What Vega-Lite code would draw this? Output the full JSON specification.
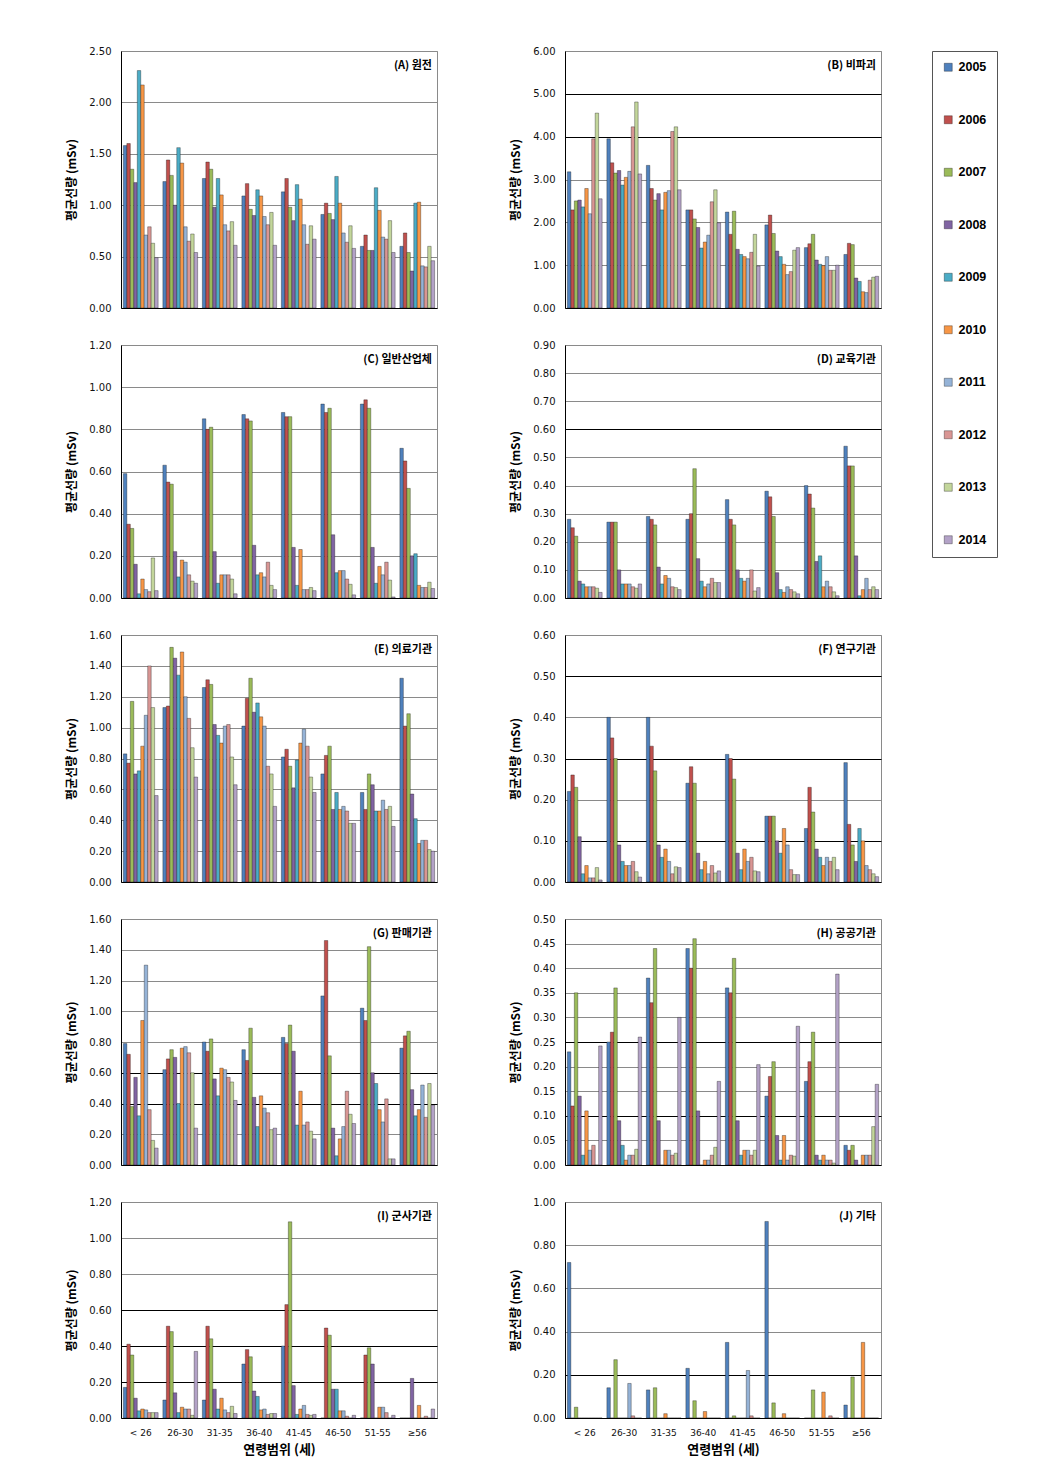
{
"$schema":"https://vega.github.io/schema/vega-lite/v6.json",
"padding":{"left":65,"top":45,"right":0,"bottom":0},
"background":"white",
"config":{
 "view":{"stroke":"#8a8a8a","strokeWidth":1},
 "axis":{"labelFont":"DejaVu Sans","labelFontSize":10,"labelColor":"#111","titleFont":"Noto Sans CJK KR","titleFontWeight":"bold","titleFontSize":12,"titleColor":"#000","domainColor":"#000","ticks":false,"labelPadding":10,"titlePadding":10,"gridColor":"#8a8a8a"},
 "axisX":{"grid":false,"labels":false,"title":null,"labelPadding":10,"labelFontSize":9,"labelAngle":0,"titlePadding":6,"titleFontSize":13},
 "bar":{"stroke":"#000","strokeWidth":0.4,"strokeOpacity":0.8},
 "title":{"font":"Noto Sans CJK KR","fontSize":11,"fontWeight":"bold","anchor":"end","frame":"group","orient":"top","baseline":"bottom","offset":-25,"dx":-5,"color":"#000"},
 "legend":{"orient":"right","offset":50,"strokeColor":"#555","padding":10,"rowPadding":39.5,"symbolType":"square","symbolSize":64,"symbolStrokeColor":"#000","symbolStrokeWidth":0.6,"labelFont":"Liberation Sans","labelFontWeight":"bold","labelFontSize":12.5,"labelColor":"#000","symbolOpacity":1,"labelOffset":4}
},
"datasets":{
"A":[
{"a":"< 26","y":2005,"v":1.58},{"a":"< 26","y":2006,"v":1.60},{"a":"< 26","y":2007,"v":1.35},{"a":"< 26","y":2008,"v":1.22},{"a":"< 26","y":2009,"v":2.31},{"a":"< 26","y":2010,"v":2.17},{"a":"< 26","y":2011,"v":0.71},{"a":"< 26","y":2012,"v":0.79},{"a":"< 26","y":2013,"v":0.63},{"a":"< 26","y":2014,"v":0.49},
{"a":"26-30","y":2005,"v":1.23},{"a":"26-30","y":2006,"v":1.44},{"a":"26-30","y":2007,"v":1.29},{"a":"26-30","y":2008,"v":1.00},{"a":"26-30","y":2009,"v":1.56},{"a":"26-30","y":2010,"v":1.41},{"a":"26-30","y":2011,"v":0.79},{"a":"26-30","y":2012,"v":0.65},{"a":"26-30","y":2013,"v":0.72},{"a":"26-30","y":2014,"v":0.54},
{"a":"31-35","y":2005,"v":1.26},{"a":"31-35","y":2006,"v":1.42},{"a":"31-35","y":2007,"v":1.35},{"a":"31-35","y":2008,"v":0.98},{"a":"31-35","y":2009,"v":1.26},{"a":"31-35","y":2010,"v":1.10},{"a":"31-35","y":2011,"v":0.81},{"a":"31-35","y":2012,"v":0.75},{"a":"31-35","y":2013,"v":0.84},{"a":"31-35","y":2014,"v":0.61},
{"a":"36-40","y":2005,"v":1.09},{"a":"36-40","y":2006,"v":1.21},{"a":"36-40","y":2007,"v":0.96},{"a":"36-40","y":2008,"v":0.90},{"a":"36-40","y":2009,"v":1.15},{"a":"36-40","y":2010,"v":1.09},{"a":"36-40","y":2011,"v":0.89},{"a":"36-40","y":2012,"v":0.81},{"a":"36-40","y":2013,"v":0.93},{"a":"36-40","y":2014,"v":0.61},
{"a":"41-45","y":2005,"v":1.13},{"a":"41-45","y":2006,"v":1.26},{"a":"41-45","y":2007,"v":0.98},{"a":"41-45","y":2008,"v":0.85},{"a":"41-45","y":2009,"v":1.20},{"a":"41-45","y":2010,"v":1.06},{"a":"41-45","y":2011,"v":0.81},{"a":"41-45","y":2012,"v":0.62},{"a":"41-45","y":2013,"v":0.80},{"a":"41-45","y":2014,"v":0.67},
{"a":"46-50","y":2005,"v":0.91},{"a":"46-50","y":2006,"v":1.02},{"a":"46-50","y":2007,"v":0.92},{"a":"46-50","y":2008,"v":0.86},{"a":"46-50","y":2009,"v":1.28},{"a":"46-50","y":2010,"v":1.02},{"a":"46-50","y":2011,"v":0.73},{"a":"46-50","y":2012,"v":0.64},{"a":"46-50","y":2013,"v":0.80},{"a":"46-50","y":2014,"v":0.58},
{"a":"51-55","y":2005,"v":0.60},{"a":"51-55","y":2006,"v":0.71},{"a":"51-55","y":2007,"v":0.56},{"a":"51-55","y":2008,"v":0.56},{"a":"51-55","y":2009,"v":1.17},{"a":"51-55","y":2010,"v":0.95},{"a":"51-55","y":2011,"v":0.69},{"a":"51-55","y":2012,"v":0.67},{"a":"51-55","y":2013,"v":0.85},{"a":"51-55","y":2014,"v":0.54},
{"a":"≥56","y":2005,"v":0.60},{"a":"≥56","y":2006,"v":0.73},{"a":"≥56","y":2007,"v":0.54},{"a":"≥56","y":2008,"v":0.36},{"a":"≥56","y":2009,"v":1.02},{"a":"≥56","y":2010,"v":1.03},{"a":"≥56","y":2011,"v":0.41},{"a":"≥56","y":2012,"v":0.40},{"a":"≥56","y":2013,"v":0.60},{"a":"≥56","y":2014,"v":0.46}
],
"B":[
{"a":"< 26","y":2005,"v":3.18},{"a":"< 26","y":2006,"v":2.29},{"a":"< 26","y":2007,"v":2.50},{"a":"< 26","y":2008,"v":2.52},{"a":"< 26","y":2009,"v":2.36},{"a":"< 26","y":2010,"v":2.79},{"a":"< 26","y":2011,"v":2.20},{"a":"< 26","y":2012,"v":3.95},{"a":"< 26","y":2013,"v":4.55},{"a":"< 26","y":2014,"v":2.55},
{"a":"26-30","y":2005,"v":3.95},{"a":"26-30","y":2006,"v":3.39},{"a":"26-30","y":2007,"v":3.15},{"a":"26-30","y":2008,"v":3.21},{"a":"26-30","y":2009,"v":2.87},{"a":"26-30","y":2010,"v":3.05},{"a":"26-30","y":2011,"v":3.19},{"a":"26-30","y":2012,"v":4.23},{"a":"26-30","y":2013,"v":4.81},{"a":"26-30","y":2014,"v":3.13},
{"a":"31-35","y":2005,"v":3.33},{"a":"31-35","y":2006,"v":2.79},{"a":"31-35","y":2007,"v":2.52},{"a":"31-35","y":2008,"v":2.67},{"a":"31-35","y":2009,"v":2.29},{"a":"31-35","y":2010,"v":2.70},{"a":"31-35","y":2011,"v":2.74},{"a":"31-35","y":2012,"v":4.12},{"a":"31-35","y":2013,"v":4.23},{"a":"31-35","y":2014,"v":2.76},
{"a":"36-40","y":2005,"v":2.29},{"a":"36-40","y":2006,"v":2.29},{"a":"36-40","y":2007,"v":2.08},{"a":"36-40","y":2008,"v":1.88},{"a":"36-40","y":2009,"v":1.40},{"a":"36-40","y":2010,"v":1.54},{"a":"36-40","y":2011,"v":1.70},{"a":"36-40","y":2012,"v":2.48},{"a":"36-40","y":2013,"v":2.76},{"a":"36-40","y":2014,"v":1.99},
{"a":"41-45","y":2005,"v":2.24},{"a":"41-45","y":2006,"v":1.72},{"a":"41-45","y":2007,"v":2.26},{"a":"41-45","y":2008,"v":1.37},{"a":"41-45","y":2009,"v":1.25},{"a":"41-45","y":2010,"v":1.20},{"a":"41-45","y":2011,"v":1.15},{"a":"41-45","y":2012,"v":1.30},{"a":"41-45","y":2013,"v":1.72},{"a":"41-45","y":2014,"v":0.98},
{"a":"46-50","y":2005,"v":1.94},{"a":"46-50","y":2006,"v":2.17},{"a":"46-50","y":2007,"v":1.74},{"a":"46-50","y":2008,"v":1.33},{"a":"46-50","y":2009,"v":1.20},{"a":"46-50","y":2010,"v":1.02},{"a":"46-50","y":2011,"v":0.78},{"a":"46-50","y":2012,"v":0.85},{"a":"46-50","y":2013,"v":1.35},{"a":"46-50","y":2014,"v":1.41},
{"a":"51-55","y":2005,"v":1.41},{"a":"51-55","y":2006,"v":1.50},{"a":"51-55","y":2007,"v":1.72},{"a":"51-55","y":2008,"v":1.12},{"a":"51-55","y":2009,"v":1.02},{"a":"51-55","y":2010,"v":0.99},{"a":"51-55","y":2011,"v":1.20},{"a":"51-55","y":2012,"v":0.88},{"a":"51-55","y":2013,"v":0.88},{"a":"51-55","y":2014,"v":1.00},
{"a":"≥56","y":2005,"v":1.25},{"a":"≥56","y":2006,"v":1.51},{"a":"≥56","y":2007,"v":1.48},{"a":"≥56","y":2008,"v":0.70},{"a":"≥56","y":2009,"v":0.62},{"a":"≥56","y":2010,"v":0.38},{"a":"≥56","y":2011,"v":0.36},{"a":"≥56","y":2012,"v":0.65},{"a":"≥56","y":2013,"v":0.72},{"a":"≥56","y":2014,"v":0.74}
],
"C":[
{"a":"< 26","y":2005,"v":0.59},{"a":"< 26","y":2006,"v":0.35},{"a":"< 26","y":2007,"v":0.33},{"a":"< 26","y":2008,"v":0.16},{"a":"< 26","y":2009,"v":0.02},{"a":"< 26","y":2010,"v":0.09},{"a":"< 26","y":2011,"v":0.04},{"a":"< 26","y":2012,"v":0.03},{"a":"< 26","y":2013,"v":0.19},{"a":"< 26","y":2014,"v":0.035},
{"a":"26-30","y":2005,"v":0.63},{"a":"26-30","y":2006,"v":0.55},{"a":"26-30","y":2007,"v":0.54},{"a":"26-30","y":2008,"v":0.22},{"a":"26-30","y":2009,"v":0.10},{"a":"26-30","y":2010,"v":0.18},{"a":"26-30","y":2011,"v":0.17},{"a":"26-30","y":2012,"v":0.11},{"a":"26-30","y":2013,"v":0.08},{"a":"26-30","y":2014,"v":0.07},
{"a":"31-35","y":2005,"v":0.85},{"a":"31-35","y":2006,"v":0.80},{"a":"31-35","y":2007,"v":0.81},{"a":"31-35","y":2008,"v":0.22},{"a":"31-35","y":2009,"v":0.07},{"a":"31-35","y":2010,"v":0.11},{"a":"31-35","y":2011,"v":0.11},{"a":"31-35","y":2012,"v":0.11},{"a":"31-35","y":2013,"v":0.09},{"a":"31-35","y":2014,"v":0.02},
{"a":"36-40","y":2005,"v":0.87},{"a":"36-40","y":2006,"v":0.85},{"a":"36-40","y":2007,"v":0.84},{"a":"36-40","y":2008,"v":0.25},{"a":"36-40","y":2009,"v":0.11},{"a":"36-40","y":2010,"v":0.12},{"a":"36-40","y":2011,"v":0.10},{"a":"36-40","y":2012,"v":0.17},{"a":"36-40","y":2013,"v":0.06},{"a":"36-40","y":2014,"v":0.04},
{"a":"41-45","y":2005,"v":0.88},{"a":"41-45","y":2006,"v":0.86},{"a":"41-45","y":2007,"v":0.86},{"a":"41-45","y":2008,"v":0.24},{"a":"41-45","y":2009,"v":0.06},{"a":"41-45","y":2010,"v":0.23},{"a":"41-45","y":2011,"v":0.04},{"a":"41-45","y":2012,"v":0.04},{"a":"41-45","y":2013,"v":0.05},{"a":"41-45","y":2014,"v":0.035},
{"a":"46-50","y":2005,"v":0.92},{"a":"46-50","y":2006,"v":0.88},{"a":"46-50","y":2007,"v":0.90},{"a":"46-50","y":2008,"v":0.30},{"a":"46-50","y":2009,"v":0.12},{"a":"46-50","y":2010,"v":0.13},{"a":"46-50","y":2011,"v":0.13},{"a":"46-50","y":2012,"v":0.09},{"a":"46-50","y":2013,"v":0.065},{"a":"46-50","y":2014,"v":0.015},
{"a":"51-55","y":2005,"v":0.92},{"a":"51-55","y":2006,"v":0.94},{"a":"51-55","y":2007,"v":0.90},{"a":"51-55","y":2008,"v":0.24},{"a":"51-55","y":2009,"v":0.07},{"a":"51-55","y":2010,"v":0.15},{"a":"51-55","y":2011,"v":0.11},{"a":"51-55","y":2012,"v":0.17},{"a":"51-55","y":2013,"v":0.085},{"a":"51-55","y":2014,"v":0.005},
{"a":"≥56","y":2005,"v":0.71},{"a":"≥56","y":2006,"v":0.65},{"a":"≥56","y":2007,"v":0.52},{"a":"≥56","y":2008,"v":0.20},{"a":"≥56","y":2009,"v":0.21},{"a":"≥56","y":2010,"v":0.06},{"a":"≥56","y":2011,"v":0.05},{"a":"≥56","y":2012,"v":0.05},{"a":"≥56","y":2013,"v":0.075},{"a":"≥56","y":2014,"v":0.045}
],
"D":[
{"a":"< 26","y":2005,"v":0.28},{"a":"< 26","y":2006,"v":0.25},{"a":"< 26","y":2007,"v":0.22},{"a":"< 26","y":2008,"v":0.06},{"a":"< 26","y":2009,"v":0.05},{"a":"< 26","y":2010,"v":0.04},{"a":"< 26","y":2011,"v":0.04},{"a":"< 26","y":2012,"v":0.04},{"a":"< 26","y":2013,"v":0.035},{"a":"< 26","y":2014,"v":0.02},
{"a":"26-30","y":2005,"v":0.27},{"a":"26-30","y":2006,"v":0.27},{"a":"26-30","y":2007,"v":0.27},{"a":"26-30","y":2008,"v":0.10},{"a":"26-30","y":2009,"v":0.05},{"a":"26-30","y":2010,"v":0.05},{"a":"26-30","y":2011,"v":0.05},{"a":"26-30","y":2012,"v":0.04},{"a":"26-30","y":2013,"v":0.035},{"a":"26-30","y":2014,"v":0.05},
{"a":"31-35","y":2005,"v":0.29},{"a":"31-35","y":2006,"v":0.28},{"a":"31-35","y":2007,"v":0.26},{"a":"31-35","y":2008,"v":0.11},{"a":"31-35","y":2009,"v":0.05},{"a":"31-35","y":2010,"v":0.08},{"a":"31-35","y":2011,"v":0.07},{"a":"31-35","y":2012,"v":0.04},{"a":"31-35","y":2013,"v":0.037},{"a":"31-35","y":2014,"v":0.03},
{"a":"36-40","y":2005,"v":0.28},{"a":"36-40","y":2006,"v":0.30},{"a":"36-40","y":2007,"v":0.46},{"a":"36-40","y":2008,"v":0.14},{"a":"36-40","y":2009,"v":0.06},{"a":"36-40","y":2010,"v":0.04},{"a":"36-40","y":2011,"v":0.05},{"a":"36-40","y":2012,"v":0.07},{"a":"36-40","y":2013,"v":0.055},{"a":"36-40","y":2014,"v":0.055},
{"a":"41-45","y":2005,"v":0.35},{"a":"41-45","y":2006,"v":0.28},{"a":"41-45","y":2007,"v":0.26},{"a":"41-45","y":2008,"v":0.10},{"a":"41-45","y":2009,"v":0.07},{"a":"41-45","y":2010,"v":0.06},{"a":"41-45","y":2011,"v":0.07},{"a":"41-45","y":2012,"v":0.10},{"a":"41-45","y":2013,"v":0.025},{"a":"41-45","y":2014,"v":0.037},
{"a":"46-50","y":2005,"v":0.38},{"a":"46-50","y":2006,"v":0.36},{"a":"46-50","y":2007,"v":0.29},{"a":"46-50","y":2008,"v":0.09},{"a":"46-50","y":2009,"v":0.03},{"a":"46-50","y":2010,"v":0.02},{"a":"46-50","y":2011,"v":0.04},{"a":"46-50","y":2012,"v":0.03},{"a":"46-50","y":2013,"v":0.022},{"a":"46-50","y":2014,"v":0.015},
{"a":"51-55","y":2005,"v":0.40},{"a":"51-55","y":2006,"v":0.37},{"a":"51-55","y":2007,"v":0.32},{"a":"51-55","y":2008,"v":0.13},{"a":"51-55","y":2009,"v":0.15},{"a":"51-55","y":2010,"v":0.04},{"a":"51-55","y":2011,"v":0.06},{"a":"51-55","y":2012,"v":0.04},{"a":"51-55","y":2013,"v":0.022},{"a":"51-55","y":2014,"v":0.008},
{"a":"≥56","y":2005,"v":0.54},{"a":"≥56","y":2006,"v":0.47},{"a":"≥56","y":2007,"v":0.47},{"a":"≥56","y":2008,"v":0.15},{"a":"≥56","y":2009,"v":0.008},{"a":"≥56","y":2010,"v":0.03},{"a":"≥56","y":2011,"v":0.07},{"a":"≥56","y":2012,"v":0.03},{"a":"≥56","y":2013,"v":0.04},{"a":"≥56","y":2014,"v":0.03}
],
"E":[
{"a":"< 26","y":2005,"v":0.83},{"a":"< 26","y":2006,"v":0.77},{"a":"< 26","y":2007,"v":1.17},{"a":"< 26","y":2008,"v":0.70},{"a":"< 26","y":2009,"v":0.72},{"a":"< 26","y":2010,"v":0.88},{"a":"< 26","y":2011,"v":1.08},{"a":"< 26","y":2012,"v":1.40},{"a":"< 26","y":2013,"v":1.13},{"a":"< 26","y":2014,"v":0.56},
{"a":"26-30","y":2005,"v":1.13},{"a":"26-30","y":2006,"v":1.14},{"a":"26-30","y":2007,"v":1.52},{"a":"26-30","y":2008,"v":1.45},{"a":"26-30","y":2009,"v":1.34},{"a":"26-30","y":2010,"v":1.49},{"a":"26-30","y":2011,"v":1.20},{"a":"26-30","y":2012,"v":1.06},{"a":"26-30","y":2013,"v":0.87},{"a":"26-30","y":2014,"v":0.68},
{"a":"31-35","y":2005,"v":1.26},{"a":"31-35","y":2006,"v":1.31},{"a":"31-35","y":2007,"v":1.28},{"a":"31-35","y":2008,"v":1.02},{"a":"31-35","y":2009,"v":0.95},{"a":"31-35","y":2010,"v":0.90},{"a":"31-35","y":2011,"v":1.01},{"a":"31-35","y":2012,"v":1.02},{"a":"31-35","y":2013,"v":0.81},{"a":"31-35","y":2014,"v":0.63},
{"a":"36-40","y":2005,"v":1.01},{"a":"36-40","y":2006,"v":1.19},{"a":"36-40","y":2007,"v":1.32},{"a":"36-40","y":2008,"v":1.10},{"a":"36-40","y":2009,"v":1.16},{"a":"36-40","y":2010,"v":1.07},{"a":"36-40","y":2011,"v":1.01},{"a":"36-40","y":2012,"v":0.75},{"a":"36-40","y":2013,"v":0.70},{"a":"36-40","y":2014,"v":0.49},
{"a":"41-45","y":2005,"v":0.81},{"a":"41-45","y":2006,"v":0.86},{"a":"41-45","y":2007,"v":0.75},{"a":"41-45","y":2008,"v":0.61},{"a":"41-45","y":2009,"v":0.79},{"a":"41-45","y":2010,"v":0.90},{"a":"41-45","y":2011,"v":0.99},{"a":"41-45","y":2012,"v":0.88},{"a":"41-45","y":2013,"v":0.68},{"a":"41-45","y":2014,"v":0.58},
{"a":"46-50","y":2005,"v":0.70},{"a":"46-50","y":2006,"v":0.82},{"a":"46-50","y":2007,"v":0.88},{"a":"46-50","y":2008,"v":0.47},{"a":"46-50","y":2009,"v":0.58},{"a":"46-50","y":2010,"v":0.47},{"a":"46-50","y":2011,"v":0.49},{"a":"46-50","y":2012,"v":0.46},{"a":"46-50","y":2013,"v":0.38},{"a":"46-50","y":2014,"v":0.38},
{"a":"51-55","y":2005,"v":0.58},{"a":"51-55","y":2006,"v":0.47},{"a":"51-55","y":2007,"v":0.70},{"a":"51-55","y":2008,"v":0.63},{"a":"51-55","y":2009,"v":0.46},{"a":"51-55","y":2010,"v":0.46},{"a":"51-55","y":2011,"v":0.53},{"a":"51-55","y":2012,"v":0.47},{"a":"51-55","y":2013,"v":0.49},{"a":"51-55","y":2014,"v":0.36},
{"a":"≥56","y":2005,"v":1.32},{"a":"≥56","y":2006,"v":1.01},{"a":"≥56","y":2007,"v":1.09},{"a":"≥56","y":2008,"v":0.57},{"a":"≥56","y":2009,"v":0.41},{"a":"≥56","y":2010,"v":0.25},{"a":"≥56","y":2011,"v":0.27},{"a":"≥56","y":2012,"v":0.27},{"a":"≥56","y":2013,"v":0.21},{"a":"≥56","y":2014,"v":0.20}
],
"F":[
{"a":"< 26","y":2005,"v":0.22},{"a":"< 26","y":2006,"v":0.26},{"a":"< 26","y":2007,"v":0.23},{"a":"< 26","y":2008,"v":0.11},{"a":"< 26","y":2009,"v":0.02},{"a":"< 26","y":2010,"v":0.04},{"a":"< 26","y":2011,"v":0.01},{"a":"< 26","y":2012,"v":0.01},{"a":"< 26","y":2013,"v":0.035},{"a":"< 26","y":2014,"v":0.005},
{"a":"26-30","y":2005,"v":0.40},{"a":"26-30","y":2006,"v":0.35},{"a":"26-30","y":2007,"v":0.30},{"a":"26-30","y":2008,"v":0.09},{"a":"26-30","y":2009,"v":0.05},{"a":"26-30","y":2010,"v":0.04},{"a":"26-30","y":2011,"v":0.04},{"a":"26-30","y":2012,"v":0.05},{"a":"26-30","y":2013,"v":0.025},{"a":"26-30","y":2014,"v":0.012},
{"a":"31-35","y":2005,"v":0.40},{"a":"31-35","y":2006,"v":0.33},{"a":"31-35","y":2007,"v":0.27},{"a":"31-35","y":2008,"v":0.09},{"a":"31-35","y":2009,"v":0.06},{"a":"31-35","y":2010,"v":0.08},{"a":"31-35","y":2011,"v":0.05},{"a":"31-35","y":2012,"v":0.02},{"a":"31-35","y":2013,"v":0.037},{"a":"31-35","y":2014,"v":0.035},
{"a":"36-40","y":2005,"v":0.24},{"a":"36-40","y":2006,"v":0.28},{"a":"36-40","y":2007,"v":0.24},{"a":"36-40","y":2008,"v":0.07},{"a":"36-40","y":2009,"v":0.03},{"a":"36-40","y":2010,"v":0.05},{"a":"36-40","y":2011,"v":0.02},{"a":"36-40","y":2012,"v":0.04},{"a":"36-40","y":2013,"v":0.022},{"a":"36-40","y":2014,"v":0.027},
{"a":"41-45","y":2005,"v":0.31},{"a":"41-45","y":2006,"v":0.30},{"a":"41-45","y":2007,"v":0.25},{"a":"41-45","y":2008,"v":0.07},{"a":"41-45","y":2009,"v":0.03},{"a":"41-45","y":2010,"v":0.08},{"a":"41-45","y":2011,"v":0.05},{"a":"41-45","y":2012,"v":0.06},{"a":"41-45","y":2013,"v":0.027},{"a":"41-45","y":2014,"v":0.025},
{"a":"46-50","y":2005,"v":0.16},{"a":"46-50","y":2006,"v":0.16},{"a":"46-50","y":2007,"v":0.16},{"a":"46-50","y":2008,"v":0.10},{"a":"46-50","y":2009,"v":0.07},{"a":"46-50","y":2010,"v":0.13},{"a":"46-50","y":2011,"v":0.09},{"a":"46-50","y":2012,"v":0.03},{"a":"46-50","y":2013,"v":0.018},{"a":"46-50","y":2014,"v":0.018},
{"a":"51-55","y":2005,"v":0.13},{"a":"51-55","y":2006,"v":0.23},{"a":"51-55","y":2007,"v":0.17},{"a":"51-55","y":2008,"v":0.08},{"a":"51-55","y":2009,"v":0.06},{"a":"51-55","y":2010,"v":0.04},{"a":"51-55","y":2011,"v":0.06},{"a":"51-55","y":2012,"v":0.05},{"a":"51-55","y":2013,"v":0.06},{"a":"51-55","y":2014,"v":0.03},
{"a":"≥56","y":2005,"v":0.29},{"a":"≥56","y":2006,"v":0.14},{"a":"≥56","y":2007,"v":0.09},{"a":"≥56","y":2008,"v":0.05},{"a":"≥56","y":2009,"v":0.13},{"a":"≥56","y":2010,"v":0.10},{"a":"≥56","y":2011,"v":0.04},{"a":"≥56","y":2012,"v":0.03},{"a":"≥56","y":2013,"v":0.02},{"a":"≥56","y":2014,"v":0.013}
],
"G":[
{"a":"< 26","y":2005,"v":0.79},{"a":"< 26","y":2006,"v":0.72},{"a":"< 26","y":2007,"v":0.38},{"a":"< 26","y":2008,"v":0.57},{"a":"< 26","y":2009,"v":0.32},{"a":"< 26","y":2010,"v":0.94},{"a":"< 26","y":2011,"v":1.30},{"a":"< 26","y":2012,"v":0.36},{"a":"< 26","y":2013,"v":0.16},{"a":"< 26","y":2014,"v":0.11},
{"a":"26-30","y":2005,"v":0.62},{"a":"26-30","y":2006,"v":0.69},{"a":"26-30","y":2007,"v":0.75},{"a":"26-30","y":2008,"v":0.70},{"a":"26-30","y":2009,"v":0.40},{"a":"26-30","y":2010,"v":0.76},{"a":"26-30","y":2011,"v":0.77},{"a":"26-30","y":2012,"v":0.73},{"a":"26-30","y":2013,"v":0.60},{"a":"26-30","y":2014,"v":0.24},
{"a":"31-35","y":2005,"v":0.80},{"a":"31-35","y":2006,"v":0.74},{"a":"31-35","y":2007,"v":0.82},{"a":"31-35","y":2008,"v":0.56},{"a":"31-35","y":2009,"v":0.45},{"a":"31-35","y":2010,"v":0.63},{"a":"31-35","y":2011,"v":0.62},{"a":"31-35","y":2012,"v":0.57},{"a":"31-35","y":2013,"v":0.54},{"a":"31-35","y":2014,"v":0.42},
{"a":"36-40","y":2005,"v":0.75},{"a":"36-40","y":2006,"v":0.68},{"a":"36-40","y":2007,"v":0.89},{"a":"36-40","y":2008,"v":0.44},{"a":"36-40","y":2009,"v":0.25},{"a":"36-40","y":2010,"v":0.45},{"a":"36-40","y":2011,"v":0.37},{"a":"36-40","y":2012,"v":0.34},{"a":"36-40","y":2013,"v":0.23},{"a":"36-40","y":2014,"v":0.24},
{"a":"41-45","y":2005,"v":0.83},{"a":"41-45","y":2006,"v":0.79},{"a":"41-45","y":2007,"v":0.91},{"a":"41-45","y":2008,"v":0.74},{"a":"41-45","y":2009,"v":0.26},{"a":"41-45","y":2010,"v":0.48},{"a":"41-45","y":2011,"v":0.26},{"a":"41-45","y":2012,"v":0.28},{"a":"41-45","y":2013,"v":0.22},{"a":"41-45","y":2014,"v":0.17},
{"a":"46-50","y":2005,"v":1.10},{"a":"46-50","y":2006,"v":1.46},{"a":"46-50","y":2007,"v":0.71},{"a":"46-50","y":2008,"v":0.24},{"a":"46-50","y":2009,"v":0.06},{"a":"46-50","y":2010,"v":0.17},{"a":"46-50","y":2011,"v":0.25},{"a":"46-50","y":2012,"v":0.48},{"a":"46-50","y":2013,"v":0.33},{"a":"46-50","y":2014,"v":0.27},
{"a":"51-55","y":2005,"v":1.02},{"a":"51-55","y":2006,"v":0.94},{"a":"51-55","y":2007,"v":1.42},{"a":"51-55","y":2008,"v":0.60},{"a":"51-55","y":2009,"v":0.53},{"a":"51-55","y":2010,"v":0.36},{"a":"51-55","y":2011,"v":0.28},{"a":"51-55","y":2012,"v":0.43},{"a":"51-55","y":2013,"v":0.04},{"a":"51-55","y":2014,"v":0.04},
{"a":"≥56","y":2005,"v":0.76},{"a":"≥56","y":2006,"v":0.84},{"a":"≥56","y":2007,"v":0.87},{"a":"≥56","y":2008,"v":0.49},{"a":"≥56","y":2009,"v":0.32},{"a":"≥56","y":2010,"v":0.36},{"a":"≥56","y":2011,"v":0.52},{"a":"≥56","y":2012,"v":0.31},{"a":"≥56","y":2013,"v":0.53},{"a":"≥56","y":2014,"v":0.39}
],
"H":[
{"a":"< 26","y":2005,"v":0.23},{"a":"< 26","y":2006,"v":0.12},{"a":"< 26","y":2007,"v":0.35},{"a":"< 26","y":2008,"v":0.14},{"a":"< 26","y":2009,"v":0.02},{"a":"< 26","y":2010,"v":0.11},{"a":"< 26","y":2011,"v":0.03},{"a":"< 26","y":2012,"v":0.04},{"a":"< 26","y":2013,"v":0},{"a":"< 26","y":2014,"v":0.242},
{"a":"26-30","y":2005,"v":0.25},{"a":"26-30","y":2006,"v":0.27},{"a":"26-30","y":2007,"v":0.36},{"a":"26-30","y":2008,"v":0.09},{"a":"26-30","y":2009,"v":0.04},{"a":"26-30","y":2010,"v":0.01},{"a":"26-30","y":2011,"v":0.02},{"a":"26-30","y":2012,"v":0.02},{"a":"26-30","y":2013,"v":0.032},{"a":"26-30","y":2014,"v":0.26},
{"a":"31-35","y":2005,"v":0.38},{"a":"31-35","y":2006,"v":0.33},{"a":"31-35","y":2007,"v":0.44},{"a":"31-35","y":2008,"v":0.09},{"a":"31-35","y":2009,"v":0},{"a":"31-35","y":2010,"v":0.03},{"a":"31-35","y":2011,"v":0.03},{"a":"31-35","y":2012,"v":0.02},{"a":"31-35","y":2013,"v":0.024},{"a":"31-35","y":2014,"v":0.30},
{"a":"36-40","y":2005,"v":0.44},{"a":"36-40","y":2006,"v":0.40},{"a":"36-40","y":2007,"v":0.46},{"a":"36-40","y":2008,"v":0.11},{"a":"36-40","y":2009,"v":0},{"a":"36-40","y":2010,"v":0.01},{"a":"36-40","y":2011,"v":0.01},{"a":"36-40","y":2012,"v":0.02},{"a":"36-40","y":2013,"v":0.036},{"a":"36-40","y":2014,"v":0.17},
{"a":"41-45","y":2005,"v":0.36},{"a":"41-45","y":2006,"v":0.35},{"a":"41-45","y":2007,"v":0.42},{"a":"41-45","y":2008,"v":0.09},{"a":"41-45","y":2009,"v":0.02},{"a":"41-45","y":2010,"v":0.03},{"a":"41-45","y":2011,"v":0.03},{"a":"41-45","y":2012,"v":0.02},{"a":"41-45","y":2013,"v":0.03},{"a":"41-45","y":2014,"v":0.204},
{"a":"46-50","y":2005,"v":0.14},{"a":"46-50","y":2006,"v":0.18},{"a":"46-50","y":2007,"v":0.21},{"a":"46-50","y":2008,"v":0.06},{"a":"46-50","y":2009,"v":0.01},{"a":"46-50","y":2010,"v":0.06},{"a":"46-50","y":2011,"v":0.01},{"a":"46-50","y":2012,"v":0.02},{"a":"46-50","y":2013,"v":0.018},{"a":"46-50","y":2014,"v":0.282},
{"a":"51-55","y":2005,"v":0.17},{"a":"51-55","y":2006,"v":0.21},{"a":"51-55","y":2007,"v":0.27},{"a":"51-55","y":2008,"v":0.02},{"a":"51-55","y":2009,"v":0.01},{"a":"51-55","y":2010,"v":0.02},{"a":"51-55","y":2011,"v":0.01},{"a":"51-55","y":2012,"v":0.01},{"a":"51-55","y":2013,"v":0.004},{"a":"51-55","y":2014,"v":0.388},
{"a":"≥56","y":2005,"v":0.04},{"a":"≥56","y":2006,"v":0.03},{"a":"≥56","y":2007,"v":0.04},{"a":"≥56","y":2008,"v":0.01},{"a":"≥56","y":2009,"v":0},{"a":"≥56","y":2010,"v":0.02},{"a":"≥56","y":2011,"v":0.02},{"a":"≥56","y":2012,"v":0.02},{"a":"≥56","y":2013,"v":0.078},{"a":"≥56","y":2014,"v":0.164}
],
"I":[
{"a":"< 26","y":2005,"v":0.17},{"a":"< 26","y":2006,"v":0.41},{"a":"< 26","y":2007,"v":0.35},{"a":"< 26","y":2008,"v":0.11},{"a":"< 26","y":2009,"v":0.04},{"a":"< 26","y":2010,"v":0.05},{"a":"< 26","y":2011,"v":0.045},{"a":"< 26","y":2012,"v":0.03},{"a":"< 26","y":2013,"v":0.03},{"a":"< 26","y":2014,"v":0.03},
{"a":"26-30","y":2005,"v":0.10},{"a":"26-30","y":2006,"v":0.51},{"a":"26-30","y":2007,"v":0.48},{"a":"26-30","y":2008,"v":0.14},{"a":"26-30","y":2009,"v":0.03},{"a":"26-30","y":2010,"v":0.06},{"a":"26-30","y":2011,"v":0.05},{"a":"26-30","y":2012,"v":0.05},{"a":"26-30","y":2013,"v":0.015},{"a":"26-30","y":2014,"v":0.37},
{"a":"31-35","y":2005,"v":0.10},{"a":"31-35","y":2006,"v":0.51},{"a":"31-35","y":2007,"v":0.44},{"a":"31-35","y":2008,"v":0.16},{"a":"31-35","y":2009,"v":0.05},{"a":"31-35","y":2010,"v":0.11},{"a":"31-35","y":2011,"v":0.045},{"a":"31-35","y":2012,"v":0.03},{"a":"31-35","y":2013,"v":0.065},{"a":"31-35","y":2014,"v":0.025},
{"a":"36-40","y":2005,"v":0.30},{"a":"36-40","y":2006,"v":0.38},{"a":"36-40","y":2007,"v":0.34},{"a":"36-40","y":2008,"v":0.15},{"a":"36-40","y":2009,"v":0.12},{"a":"36-40","y":2010,"v":0.045},{"a":"36-40","y":2011,"v":0.05},{"a":"36-40","y":2012,"v":0.02},{"a":"36-40","y":2013,"v":0.025},{"a":"36-40","y":2014,"v":0.025},
{"a":"41-45","y":2005,"v":0.40},{"a":"41-45","y":2006,"v":0.63},{"a":"41-45","y":2007,"v":1.09},{"a":"41-45","y":2008,"v":0.18},{"a":"41-45","y":2009,"v":0.02},{"a":"41-45","y":2010,"v":0.05},{"a":"41-45","y":2011,"v":0.07},{"a":"41-45","y":2012,"v":0.02},{"a":"41-45","y":2013,"v":0.015},{"a":"41-45","y":2014,"v":0.02},
{"a":"46-50","y":2005,"v":0},{"a":"46-50","y":2006,"v":0.50},{"a":"46-50","y":2007,"v":0.46},{"a":"46-50","y":2008,"v":0.16},{"a":"46-50","y":2009,"v":0.16},{"a":"46-50","y":2010,"v":0.04},{"a":"46-50","y":2011,"v":0.04},{"a":"46-50","y":2012,"v":0.01},{"a":"46-50","y":2013,"v":0},{"a":"46-50","y":2014,"v":0.015},
{"a":"51-55","y":2005,"v":0},{"a":"51-55","y":2006,"v":0.35},{"a":"51-55","y":2007,"v":0.39},{"a":"51-55","y":2008,"v":0.30},{"a":"51-55","y":2009,"v":0},{"a":"51-55","y":2010,"v":0.06},{"a":"51-55","y":2011,"v":0.06},{"a":"51-55","y":2012,"v":0.03},{"a":"51-55","y":2013,"v":0},{"a":"51-55","y":2014,"v":0.015},
{"a":"≥56","y":2005,"v":0},{"a":"≥56","y":2006,"v":0},{"a":"≥56","y":2007,"v":0},{"a":"≥56","y":2008,"v":0.22},{"a":"≥56","y":2009,"v":0},{"a":"≥56","y":2010,"v":0.07},{"a":"≥56","y":2011,"v":0},{"a":"≥56","y":2012,"v":0.01},{"a":"≥56","y":2013,"v":0},{"a":"≥56","y":2014,"v":0.05}
],
"J":[
{"a":"< 26","y":2005,"v":0.72},{"a":"< 26","y":2006,"v":0},{"a":"< 26","y":2007,"v":0.05},{"a":"< 26","y":2008,"v":0},{"a":"< 26","y":2009,"v":0},{"a":"< 26","y":2010,"v":0},{"a":"< 26","y":2011,"v":0},{"a":"< 26","y":2012,"v":0},{"a":"< 26","y":2013,"v":0},{"a":"< 26","y":2014,"v":0},
{"a":"26-30","y":2005,"v":0.14},{"a":"26-30","y":2006,"v":0},{"a":"26-30","y":2007,"v":0.27},{"a":"26-30","y":2008,"v":0},{"a":"26-30","y":2009,"v":0},{"a":"26-30","y":2010,"v":0},{"a":"26-30","y":2011,"v":0.16},{"a":"26-30","y":2012,"v":0.01},{"a":"26-30","y":2013,"v":0},{"a":"26-30","y":2014,"v":0},
{"a":"31-35","y":2005,"v":0.13},{"a":"31-35","y":2006,"v":0},{"a":"31-35","y":2007,"v":0.14},{"a":"31-35","y":2008,"v":0},{"a":"31-35","y":2009,"v":0},{"a":"31-35","y":2010,"v":0.02},{"a":"31-35","y":2011,"v":0},{"a":"31-35","y":2012,"v":0},{"a":"31-35","y":2013,"v":0},{"a":"31-35","y":2014,"v":0},
{"a":"36-40","y":2005,"v":0.23},{"a":"36-40","y":2006,"v":0},{"a":"36-40","y":2007,"v":0.08},{"a":"36-40","y":2008,"v":0},{"a":"36-40","y":2009,"v":0},{"a":"36-40","y":2010,"v":0.03},{"a":"36-40","y":2011,"v":0},{"a":"36-40","y":2012,"v":0},{"a":"36-40","y":2013,"v":0},{"a":"36-40","y":2014,"v":0},
{"a":"41-45","y":2005,"v":0.35},{"a":"41-45","y":2006,"v":0},{"a":"41-45","y":2007,"v":0.01},{"a":"41-45","y":2008,"v":0},{"a":"41-45","y":2009,"v":0},{"a":"41-45","y":2010,"v":0},{"a":"41-45","y":2011,"v":0.22},{"a":"41-45","y":2012,"v":0.01},{"a":"41-45","y":2013,"v":0},{"a":"41-45","y":2014,"v":0},
{"a":"46-50","y":2005,"v":0.91},{"a":"46-50","y":2006,"v":0},{"a":"46-50","y":2007,"v":0.07},{"a":"46-50","y":2008,"v":0},{"a":"46-50","y":2009,"v":0},{"a":"46-50","y":2010,"v":0.02},{"a":"46-50","y":2011,"v":0},{"a":"46-50","y":2012,"v":0},{"a":"46-50","y":2013,"v":0},{"a":"46-50","y":2014,"v":0},
{"a":"51-55","y":2005,"v":0},{"a":"51-55","y":2006,"v":0},{"a":"51-55","y":2007,"v":0.13},{"a":"51-55","y":2008,"v":0},{"a":"51-55","y":2009,"v":0},{"a":"51-55","y":2010,"v":0.12},{"a":"51-55","y":2011,"v":0},{"a":"51-55","y":2012,"v":0.01},{"a":"51-55","y":2013,"v":0},{"a":"51-55","y":2014,"v":0},
{"a":"≥56","y":2005,"v":0.06},{"a":"≥56","y":2006,"v":0},{"a":"≥56","y":2007,"v":0.19},{"a":"≥56","y":2008,"v":0},{"a":"≥56","y":2009,"v":0},{"a":"≥56","y":2010,"v":0.35},{"a":"≥56","y":2011,"v":0},{"a":"≥56","y":2012,"v":0},{"a":"≥56","y":2013,"v":0},{"a":"≥56","y":2014,"v":0}
]
},
"vconcat":[
{"spacing":71,"hconcat":[
 {"width":316,"height":257,"title":{"text":"(A) 원전"},"data":{"name":"A"},"mark":"bar",
  "encoding":{
   "x":{"field":"a","type":"nominal","sort":["< 26","26-30","31-35","36-40","41-45","46-50","51-55","≥56"],"scale":{"paddingInner":0.12,"paddingOuter":0.06}},
   "xOffset":{"field":"y","type":"nominal"},
   "y":{"field":"v","type":"quantitative","scale":{"domain":[0,2.5],"nice":false},"axis":{"values":[0,0.5,1,1.5,2,2.5],"format":".2f","title":"평균선량 (mSv)"}},
   "color":{"field":"y","type":"nominal","title":null,"scale":{"domain":[2005,2006,2007,2008,2009,2010,2011,2012,2013,2014],"range":["#4F81BD","#C0504D","#9BBB59","#8064A2","#4BACC6","#F79646","#95B3D7","#D99694","#C3D69B","#B3A2C7"]}}}},
 {"width":316,"height":257,"title":{"text":"(B) 비파괴"},"data":{"name":"B"},"mark":"bar",
  "encoding":{
   "x":{"field":"a","type":"nominal","sort":["< 26","26-30","31-35","36-40","41-45","46-50","51-55","≥56"],"scale":{"paddingInner":0.12,"paddingOuter":0.06}},
   "xOffset":{"field":"y","type":"nominal"},
   "y":{"field":"v","type":"quantitative","scale":{"domain":[0,6],"nice":false},"axis":{"values":[0,1,2,3,4,5,6],"format":".2f","title":"평균선량 (mSv)","gridColor":{"condition":{"test":"datum.value==4||datum.value==5","value":"#000"},"value":"#8a8a8a"}}},
   "color":{"field":"y","type":"nominal","title":null}}}
]},
{"spacing":71,"hconcat":[
 {"width":316,"height":253,"title":{"text":"(C) 일반산업체"},"data":{"name":"C"},"mark":"bar",
  "encoding":{
   "x":{"field":"a","type":"nominal","sort":["< 26","26-30","31-35","36-40","41-45","46-50","51-55","≥56"],"scale":{"paddingInner":0.12,"paddingOuter":0.06}},
   "xOffset":{"field":"y","type":"nominal"},
   "y":{"field":"v","type":"quantitative","scale":{"domain":[0,1.2],"nice":false},"axis":{"values":[0,0.2,0.4,0.6,0.8,1,1.2],"format":".2f","title":"평균선량 (mSv)"}},
   "color":{"field":"y","type":"nominal","title":null}}},
 {"width":316,"height":253,"title":{"text":"(D) 교육기관"},"data":{"name":"D"},"mark":"bar",
  "encoding":{
   "x":{"field":"a","type":"nominal","sort":["< 26","26-30","31-35","36-40","41-45","46-50","51-55","≥56"],"scale":{"paddingInner":0.12,"paddingOuter":0.06}},
   "xOffset":{"field":"y","type":"nominal"},
   "y":{"field":"v","type":"quantitative","scale":{"domain":[0,0.9],"nice":false},"axis":{"values":[0,0.1,0.2,0.3,0.4,0.5,0.6,0.7,0.8,0.9],"format":".2f","title":"평균선량 (mSv)","gridColor":{"condition":{"test":"datum.value==0.6","value":"#000"},"value":"#8a8a8a"}}},
   "color":{"field":"y","type":"nominal","title":null}}}
]},
{"spacing":71,"hconcat":[
 {"width":316,"height":247,"title":{"text":"(E) 의료기관"},"data":{"name":"E"},"mark":"bar",
  "encoding":{
   "x":{"field":"a","type":"nominal","sort":["< 26","26-30","31-35","36-40","41-45","46-50","51-55","≥56"],"scale":{"paddingInner":0.12,"paddingOuter":0.06}},
   "xOffset":{"field":"y","type":"nominal"},
   "y":{"field":"v","type":"quantitative","scale":{"domain":[0,1.6],"nice":false},"axis":{"values":[0,0.2,0.4,0.6,0.8,1,1.2,1.4,1.6],"format":".2f","title":"평균선량 (mSv)"}},
   "color":{"field":"y","type":"nominal","title":null}}},
 {"width":316,"height":247,"title":{"text":"(F) 연구기관"},"data":{"name":"F"},"mark":"bar",
  "encoding":{
   "x":{"field":"a","type":"nominal","sort":["< 26","26-30","31-35","36-40","41-45","46-50","51-55","≥56"],"scale":{"paddingInner":0.12,"paddingOuter":0.06}},
   "xOffset":{"field":"y","type":"nominal"},
   "y":{"field":"v","type":"quantitative","scale":{"domain":[0,0.6],"nice":false},"axis":{"values":[0,0.1,0.2,0.3,0.4,0.5,0.6],"format":".2f","title":"평균선량 (mSv)","gridColor":{"condition":{"test":"datum.value==0.1||datum.value==0.3||datum.value==0.5","value":"#000"},"value":"#8a8a8a"}}},
   "color":{"field":"y","type":"nominal","title":null}}}
]},
{"spacing":71,"hconcat":[
 {"width":316,"height":246,"title":{"text":"(G) 판매기관"},"data":{"name":"G"},"mark":"bar",
  "encoding":{
   "x":{"field":"a","type":"nominal","sort":["< 26","26-30","31-35","36-40","41-45","46-50","51-55","≥56"],"scale":{"paddingInner":0.12,"paddingOuter":0.06}},
   "xOffset":{"field":"y","type":"nominal"},
   "y":{"field":"v","type":"quantitative","scale":{"domain":[0,1.6],"nice":false},"axis":{"values":[0,0.2,0.4,0.6,0.8,1,1.2,1.4,1.6],"format":".2f","title":"평균선량 (mSv)","gridColor":{"condition":{"test":"datum.value==0.4||datum.value==0.6","value":"#000"},"value":"#8a8a8a"}}},
   "color":{"field":"y","type":"nominal","title":null}}},
 {"width":316,"height":246,"title":{"text":"(H) 공공기관"},"data":{"name":"H"},"mark":"bar",
  "encoding":{
   "x":{"field":"a","type":"nominal","sort":["< 26","26-30","31-35","36-40","41-45","46-50","51-55","≥56"],"scale":{"paddingInner":0.12,"paddingOuter":0.06}},
   "xOffset":{"field":"y","type":"nominal"},
   "y":{"field":"v","type":"quantitative","scale":{"domain":[0,0.5],"nice":false},"axis":{"values":[0,0.05,0.1,0.15,0.2,0.25,0.3,0.35,0.4,0.45,0.5],"format":".2f","title":"평균선량 (mSv)","gridColor":{"condition":{"test":"datum.value==0.1||datum.value==0.25","value":"#000"},"value":"#8a8a8a"}}},
   "color":{"field":"y","type":"nominal","title":null}}}
]},
{"spacing":71,"hconcat":[
 {"width":316,"height":216,"title":{"text":"(I) 군사기관"},"data":{"name":"I"},"mark":"bar",
  "encoding":{
   "x":{"field":"a","type":"nominal","sort":["< 26","26-30","31-35","36-40","41-45","46-50","51-55","≥56"],"scale":{"paddingInner":0.12,"paddingOuter":0.06},"axis":{"labels":true,"title":"연령범위 (세)"}},
   "xOffset":{"field":"y","type":"nominal"},
   "y":{"field":"v","type":"quantitative","scale":{"domain":[0,1.2],"nice":false},"axis":{"values":[0,0.2,0.4,0.6,0.8,1,1.2],"format":".2f","title":"평균선량 (mSv)","gridColor":{"condition":{"test":"datum.value==0.2||datum.value==0.4||datum.value==0.6","value":"#000"},"value":"#8a8a8a"}}},
   "color":{"field":"y","type":"nominal","title":null}}},
 {"width":316,"height":216,"title":{"text":"(J) 기타"},"data":{"name":"J"},"mark":"bar",
  "encoding":{
   "x":{"field":"a","type":"nominal","sort":["< 26","26-30","31-35","36-40","41-45","46-50","51-55","≥56"],"scale":{"paddingInner":0.12,"paddingOuter":0.06},"axis":{"labels":true,"title":"연령범위 (세)"}},
   "xOffset":{"field":"y","type":"nominal"},
   "y":{"field":"v","type":"quantitative","scale":{"domain":[0,1],"nice":false},"axis":{"values":[0,0.2,0.4,0.6,0.8,1],"format":".2f","title":"평균선량 (mSv)","gridColor":{"condition":{"test":"datum.value==0.2","value":"#000"},"value":"#8a8a8a"}}},
   "color":{"field":"y","type":"nominal","title":null}}}
]}
],
"spacing":25,
"resolve":{"scale":{"color":"shared"}}
}
